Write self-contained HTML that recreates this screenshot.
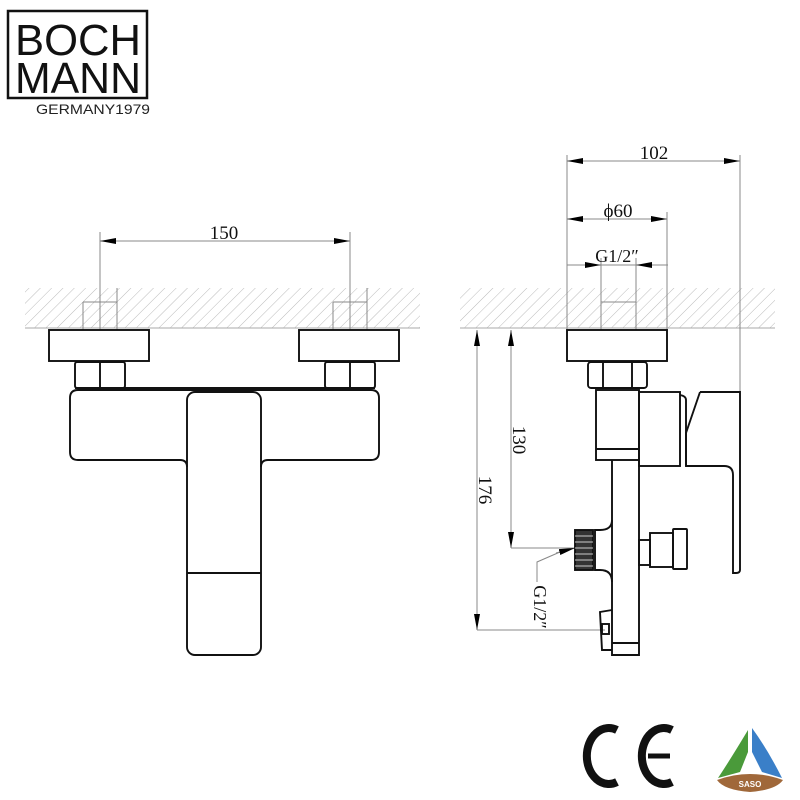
<!DOCTYPE html>
<html><head><meta charset="utf-8"><style>html,body{margin:0;padding:0;background:#fff}svg{display:block}</style></head>
<body>
<svg width="800" height="800" viewBox="0 0 800 800" xmlns="http://www.w3.org/2000/svg">
<defs>
<pattern id="h" width="8" height="8" patternUnits="userSpaceOnUse" patternTransform="rotate(45)">
<line x1="0" y1="0" x2="0" y2="8" stroke="#bbb" stroke-width="1"/>
</pattern>
<marker id="a" markerWidth="16" markerHeight="6" refX="16" refY="3" orient="auto" markerUnits="userSpaceOnUse">
<path d="M0,0 L16,3 L0,6 Z" fill="#000"/>
</marker>
<marker id="b" markerWidth="16" markerHeight="6" refX="0" refY="3" orient="auto" markerUnits="userSpaceOnUse">
<path d="M16,0 L0,3 L16,6 Z" fill="#000"/>
</marker>
</defs>
<!-- Logo -->
<rect x="8" y="11" width="139" height="87" fill="none" stroke="#111" stroke-width="2.5"/>
<text x="78" y="55" font-family="Liberation Sans, sans-serif" font-size="44" text-anchor="middle" fill="#111" textLength="126" lengthAdjust="spacingAndGlyphs">BOCH</text>
<text x="78" y="93" font-family="Liberation Sans, sans-serif" font-size="44" text-anchor="middle" fill="#111" textLength="126" lengthAdjust="spacingAndGlyphs">MANN</text>
<text x="36" y="114" font-family="Liberation Sans, sans-serif" font-size="14" fill="#222" textLength="114" lengthAdjust="spacingAndGlyphs">GERMANY1979</text>

<!-- walls -->
<rect x="25" y="288" width="395" height="40" fill="url(#h)"/>
<rect x="460" y="288" width="315" height="40" fill="url(#h)"/>
<line x1="25" y1="328" x2="420" y2="328" stroke="#aaa"/>
<line x1="460" y1="328" x2="775" y2="328" stroke="#aaa"/>

<g fill="none" stroke="#888" stroke-width="1">
<line x1="100" y1="232" x2="100" y2="330"/><line x1="350" y1="232" x2="350" y2="330"/>
<line x1="83" y1="302" x2="83" y2="330"/><line x1="117" y1="288" x2="117" y2="330"/>
<line x1="83" y1="302" x2="117" y2="302"/>
<line x1="333" y1="302" x2="333" y2="330"/><line x1="367" y1="288" x2="367" y2="330"/>
<line x1="333" y1="302" x2="367" y2="302"/>
<line x1="567" y1="155" x2="567" y2="330"/><line x1="740" y1="155" x2="740" y2="392"/>
<line x1="667" y1="212" x2="667" y2="330"/>
<line x1="601" y1="258" x2="601" y2="330"/><line x1="636" y1="258" x2="636" y2="330"/>
<line x1="601" y1="302" x2="636" y2="302"/>
<line x1="511" y1="548" x2="575" y2="548"/>
<line x1="477" y1="630" x2="605" y2="630"/>
<polyline points="537,582 537,562 560,552"/>
</g>

<g stroke="#888" stroke-width="1" fill="none">
<line x1="100" y1="241" x2="350" y2="241" marker-start="url(#b)" marker-end="url(#a)"/>
<line x1="567" y1="161" x2="740" y2="161" marker-start="url(#b)" marker-end="url(#a)"/>
<line x1="567" y1="219" x2="667" y2="219" marker-start="url(#b)" marker-end="url(#a)"/>
<line x1="567" y1="265" x2="601" y2="265" marker-end="url(#a)"/>
<line x1="668" y1="265" x2="636" y2="265" marker-end="url(#a)"/>
<line x1="601" y1="265" x2="636" y2="265"/>
<line x1="511" y1="330" x2="511" y2="548" marker-start="url(#b)" marker-end="url(#a)"/>
<line x1="477" y1="330" x2="477" y2="630" marker-start="url(#b)" marker-end="url(#a)"/>
<line x1="556" y1="553" x2="575" y2="548" marker-end="url(#a)"/>
</g>

<g font-family="Liberation Serif, serif" font-size="19" fill="#111" text-anchor="middle">
<text x="224" y="239">150</text>
<text x="654" y="159">102</text>
<text x="618" y="217">ϕ60</text>
<text x="617" y="262" font-size="18">G1/2″</text>
<text transform="translate(513,440) rotate(90)">130</text>
<text transform="translate(479,490) rotate(90)">176</text>
<text transform="translate(534,607) rotate(90)" font-size="18">G1/2″</text>
</g>

<!-- Left front view -->
<g fill="none" stroke="#111" stroke-width="1.9">
<rect x="49" y="330" width="100" height="31"/>
<rect x="299" y="330" width="100" height="31"/>
<rect x="75" y="362" width="50" height="26" rx="2"/><line x1="100" y1="362" x2="100" y2="388"/>
<rect x="325" y="362" width="50" height="26" rx="2"/><line x1="350" y1="362" x2="350" y2="388"/>
<line x1="75" y1="388" x2="375" y2="388"/>
<path d="M78,390 H371 Q379,390 379,398 V452 Q379,460 371,460 H268 Q261,460 261,467"/>
<path d="M187,467 Q187,460 180,460 H78 Q70,460 70,452 V398 Q70,390 78,390"/>
<rect x="187" y="392" width="74" height="263" rx="8"/>
<line x1="187" y1="573" x2="261" y2="573"/>
</g>

<!-- Right side view -->
<g fill="none" stroke="#111" stroke-width="1.9">
<rect x="567" y="330" width="100" height="31"/>
<rect x="588" y="362" width="59" height="26" rx="3"/>
<line x1="603" y1="362" x2="603" y2="388"/><line x1="632" y1="362" x2="632" y2="388"/>
<rect x="596" y="390" width="43" height="70"/>
<line x1="596" y1="449" x2="639" y2="449"/>
<rect x="639" y="392" width="41" height="74"/>
<path d="M680,395 Q686,396 686,400 V466"/>
<path d="M700,392 H740 V570 Q740,573 736,573 H733 V475 Q733,466 724,466 H686 V433 L700,392"/>
<path d="M612,460 V655 H639 V460"/>
<line x1="612" y1="643" x2="639" y2="643"/>
<path d="M612,520 Q612,530 600,530 H595 V570 H600 Q612,570 612,582"/>
<rect x="575" y="530" width="18" height="40" fill="#333"/>
<g stroke="#fff" stroke-width="0.8"><line x1="575" y1="536" x2="593" y2="536"/><line x1="575" y1="542" x2="593" y2="542"/><line x1="575" y1="548" x2="593" y2="548"/><line x1="575" y1="554" x2="593" y2="554"/><line x1="575" y1="560" x2="593" y2="560"/><line x1="575" y1="566" x2="593" y2="566"/></g>
<rect x="639" y="540" width="11" height="25"/>
<rect x="650" y="533" width="23" height="34"/>
<rect x="673" y="529" width="14" height="40" rx="1"/>
<path d="M612,610 L600,612 L602,650 L612,650"/>
<rect x="602" y="624" width="7" height="10"/>
</g>

<!-- CE -->
<g fill="none" stroke="#111" stroke-width="8">
<path d="M617,730 A22,28 0 1 0 617,782"/>
<path d="M672,730 A22,28 0 1 0 672,782"/>
</g>
<line x1="648" y1="756" x2="670" y2="756" stroke="#111" stroke-width="5"/>
<!-- SASO -->
<path d="M748,730 Q730,760 718,778 L740,772 L748,752 Z" fill="#4a9a3a"/>
<path d="M752,728 Q768,750 782,778 L762,772 L752,752 Z" fill="#3a7fc8"/>
<path d="M717,780 Q750,768 783,780 Q776,790 750,792 Q724,790 717,780 Z" fill="#a0683a"/>
<text x="750" y="787" font-family="Liberation Sans, sans-serif" font-size="8" font-weight="bold" fill="#fff" text-anchor="middle">SASO</text>
</svg>
</body></html>
